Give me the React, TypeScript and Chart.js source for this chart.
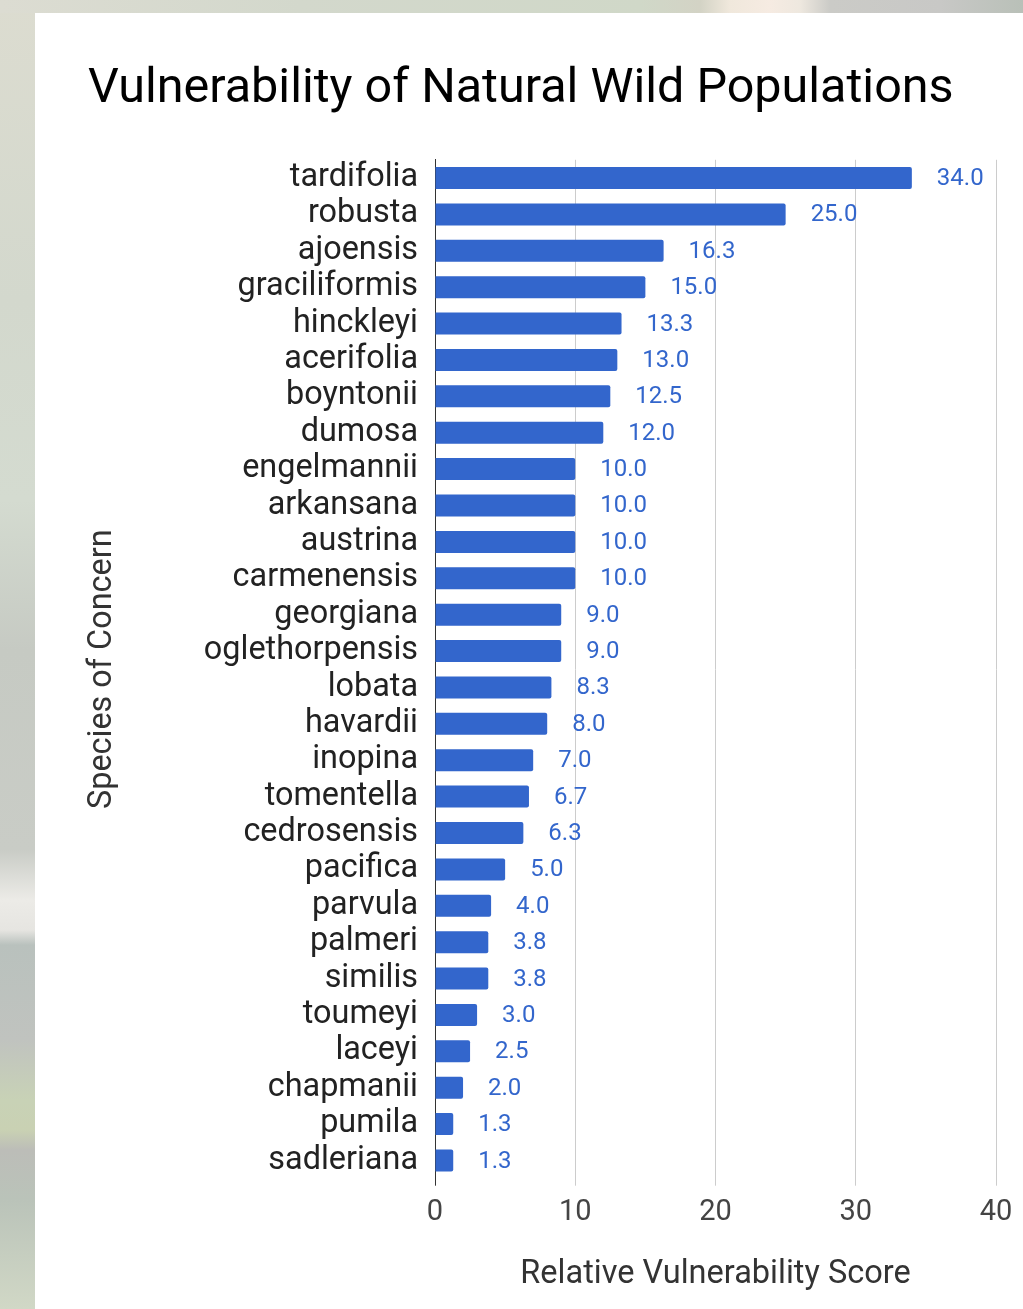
import React, { useEffect, useRef } from "react";
import { Chart, registerables } from "chart.js";

Chart.register(...registerables);

const TITLE = "Vulnerability of Natural Wild Populations";
const X_TITLE = "Relative Vulnerability Score";
const Y_TITLE = "Species of Concern";

const species = [
  "tardifolia", "robusta", "ajoensis", "graciliformis", "hinckleyi", "acerifolia",
  "boyntonii", "dumosa", "engelmannii", "arkansana", "austrina", "carmenensis",
  "georgiana", "oglethorpensis", "lobata", "havardii", "inopina", "tomentella",
  "cedrosensis", "pacifica", "parvula", "palmeri", "similis", "toumeyi",
  "laceyi", "chapmanii", "pumila", "sadleriana",
];

const scores = [
  34.0, 25.0, 16.3, 15.0, 13.3, 13.0, 12.5, 12.0, 10.0, 10.0, 10.0, 10.0,
  9.0, 9.0, 8.3, 8.0, 7.0, 6.7, 6.3, 5.0, 4.0, 3.8, 3.8, 3.0, 2.5, 2.0, 1.3, 1.3,
];

const xMin = 0;
const xMax = 40;
const xStep = 10;

const BAR = "#3366cc";
const FONT = "Roboto";

const valueLabels = {
  id: "valueLabels",
  afterDatasetsDraw(chart: any) {
    const { ctx } = chart;
    const meta = chart.getDatasetMeta(0);
    ctx.save();
    ctx.font = `24px ${FONT}`;
    ctx.fillStyle = BAR;
    ctx.textAlign = "left";
    ctx.textBaseline = "middle";
    meta.data.forEach((bar: any, i: number) => {
      const v = chart.data.datasets[0].data[i] as number;
      ctx.fillText(v.toFixed(1), bar.x + 25, bar.y + 1);
    });
    ctx.restore();
  },
};

export default function App() {
  const ref = useRef<HTMLCanvasElement>(null);

  useEffect(() => {
    if (!ref.current) return;
    const chart = new Chart(ref.current, {
      type: "bar",
      data: {
        labels: species,
        datasets: [
          {
            data: scores,
            backgroundColor: BAR,
            borderRadius: 2,
            borderSkipped: "start",
            barPercentage: 0.605,
            categoryPercentage: 1,
          },
        ],
      },
      options: {
        indexAxis: "y",
        responsive: false,
        animation: false,
        layout: { padding: { left: 53, right: 27, top: 0, bottom: 0 } },
        plugins: {
          legend: { display: false },
          tooltip: { enabled: false },
          title: {
            display: true,
            text: TITLE,
            align: "start",
            color: "#000000",
            font: { family: FONT, size: 48.5, weight: "normal" },
            padding: { top: 47.9, bottom: 40.7 },
          },
        },
        scales: {
          x: {
            min: xMin,
            max: xMax,
            afterFit(scale: any) {
              scale.height = 130.3;
            },
            ticks: {
              stepSize: xStep,
              color: "#444444",
              padding: 9.9,
              font: { family: FONT, size: 29 },
            },
            grid: {
              color: (c: any) => (c.tick && c.tick.value === 0 ? "rgba(0,0,0,0)" : "#cccccc"),
              tickColor: (c: any) => (c.tick && c.tick.value === 0 ? "#333333" : "#cccccc"),
              tickLength: 7,
              drawTicks: true,
              lineWidth: 1,
            },
            border: { display: false },
            title: {
              display: true,
              text: X_TITLE,
              color: "#333333",
              font: { family: FONT, size: 32.5 },
              padding: { top: 0, bottom: 14.5 },
            },
          },
          y: {
            afterFit(scale: any) {
              scale.width = 347;
            },
            ticks: {
              color: "#222222",
              padding: 17,
              autoSkip: false,
              font: { family: FONT, size: 32.4 },
            },
            grid: { display: false, drawTicks: false },
            border: { display: true, color: "#333333", width: 1 },
            title: {
              display: true,
              text: Y_TITLE,
              color: "#333333",
              font: { family: FONT, size: 32.4 },
              padding: { top: -4.4, bottom: 0 },
            },
          },
        },
      },
      plugins: [valueLabels],
    });
    return () => chart.destroy();
  }, []);

  return (
    <div
      style={{
        position: "absolute",
        left: 0,
        top: 0,
        width: 1023,
        height: 1309,
        overflow: "hidden",
        background:
          "linear-gradient(180deg, #dcdcd0 0px, #d3d8cd 300px, #d4dbd0 500px, #c6cac3 650px, #c9ccc6 850px, #ecebe7 900px, #e6e5e1 930px, #b9c1bd 945px, #c0c3bf 1040px, #c8d2b6 1100px, #c9d1b3 1130px, #bcbdb8 1150px, #bac3b9 1200px, #d1d8c6 1309px)",
      }}
    >
      <div
        style={{
          position: "absolute",
          left: 0,
          top: 0,
          width: 1023,
          height: 13,
          background:
            "linear-gradient(90deg, #dcdcd2 0px, #d3d8cc 300px, #d0d8c8 640px, #d3d3c5 700px, #f0e8dc 730px, #f6ebe2 770px, #eee8df 800px, #cbcbc7 830px, #c8c8c6 940px, #b9c0b8 1023px)",
        }}
      />
      <div
        style={{
          position: "absolute",
          left: 35,
          top: 13,
          width: 988,
          height: 1296,
          background: "#ffffff",
        }}
      >
        <canvas ref={ref} width={988} height={1296} style={{ display: "block", width: 988, height: 1296 }} />
      </div>
    </div>
  );
}
